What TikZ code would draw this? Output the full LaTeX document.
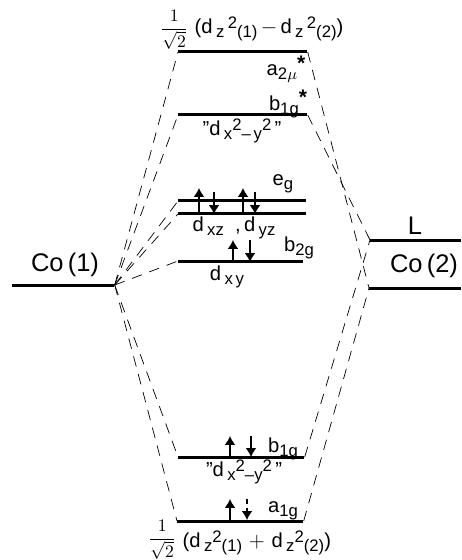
\documentclass[tikz,border=0pt]{standalone}
\usepackage{amsmath}
\usepackage{fontspec}
\setmainfont{Liberation Sans}
\usetikzlibrary{arrows.meta,calc}
\newcommand{\lsub}[1]{\raisebox{-2.2pt}{\fontsize{9.5}{10}\selectfont #1}}
\newcommand{\lsup}[1]{\raisebox{3pt}{\fontsize{9.5}{10}\selectfont #1}}
\newcommand{\lstar}{\raisebox{3pt}{\fontsize{12}{12}\selectfont\bfseries *}}
\newcommand{\lfrac}{{\fontsize{10}{11}\selectfont$\dfrac{1}{\sqrt{2}}$}}
\tikzset{
  level/.style={fill=black,inner sep=0pt,minimum height=3*0.02cm,anchor=west},
  mix/.style={dash pattern=on 6pt off 4.5pt,line width=0.4pt},
  spin/.style={line width=0.7pt,-{Latex[length=5pt,width=6pt]}},
  lab/.style={inner sep=0pt,font=\fontsize{11.5}{13}\selectfont},
  colab/.style={inner sep=0pt,font=\fontsize{14.5}{16}\selectfont}
}
\begin{document}
\begin{tikzpicture}[x=0.02cm,y=-0.02cm]
\useasboundingbox (0,0) rectangle (461,560);
% levels of the middle column
\node[level,minimum width=129*0.02cm] (a2u) at (178,52) {};
\node[level,minimum width=129*0.02cm] (b1gs) at (178,115) {};
\node[level,minimum width=128*0.02cm] (eg1) at (178,201) {};
\node[level,minimum width=128*0.02cm] (eg2) at (178,214) {};
\node[level,minimum width=125*0.02cm] (b2g) at (178,261) {};
\node[level,minimum width=126*0.02cm] (b1g) at (178,457) {};
\node[level,minimum width=126*0.02cm] (a1g) at (177,521) {};
% the two sides
\node[level,minimum width=102*0.02cm] (co1) at (12,285) {};
\node[level,minimum width=91*0.02cm] (lig) at (370,240) {};
\node[level,minimum width=92*0.02cm] (co2) at (369,288) {};
% correlation lines
\foreach \lvl in {a2u,b1gs,eg1,eg2,b2g,b1g,a1g}
  \draw[mix] (co1.east)--(\lvl.west);
\draw[mix] (a2u.east)--(co2.west);
\draw[mix] (b1gs.east)--(lig.west);
\draw[mix] (b1g.east)--(lig.west);
\draw[mix] (a1g.east)--(co2.west);
% electrons
\foreach \dx in {21,65}
  \draw[spin] ($(eg2.west)+(\dx,0)$)--++(0,-26);
\foreach \dx in {36,77}
  \draw[spin] ($(eg2.west)+(\dx,-22)$)--++(0,22);
\draw[spin] ($(b2g.west)+(55,0)$)--++(0,-21);
\draw[spin] ($(b2g.west)+(72,-21)$)--++(0,22);
\draw[spin] ($(b1g.west)+(52,0)$)--++(0,-21);
\draw[spin] ($(b1g.west)+(73,-21)$)--++(0,21);
\draw[spin] ($(a1g.west)+(53,0)$)--++(0,-22);
\draw[spin,densely dashed] ($(a1g.west)+(70,-22)$)--++(0,21);
% labels
\node[lab,anchor=west] (topf) at (160,30) {\lfrac\,\,(d\,\lsub{z}\,\lsup{2}\lsub{(1)}\,$-$\,d\,\lsub{z}\,\lsup{2}\lsub{(2)})};
\node[lab] (a2ulab) at (286,69) {a\lsub{2$\mu$}\lstar};
\node[lab] (b1gslab) at (288,104) {b\lsub{1g}\lstar};
\node[lab] (dx2s) at (242,131) {"d\,\lsub{x}\lsup{2}\lsub{--\,y}\lsup{2}\,"};
\node[lab] (eglab) at (283,184) {e\lsub{g}};
\node[lab] (dxz) at (234,228) {d\,\lsub{xz}\ \ ,\,d\,\lsub{yz}};
\node[lab] (b2glab) at (299,248) {b\lsub{2g}};
\node[lab] (dxy) at (227,277) {d\,\lsub{x\,y}};
\node[lab] (b1glab) at (283,449) {b\lsub{1g}};
\node[lab] (dx2) at (244,472) {"d\,\lsub{x}\lsup{2}\lsub{--y}\lsup{2}\,"};
\node[lab] (a1glab) at (283,511) {a\lsub{1g}};
\node[lab,anchor=west] (botf) at (148,540) {\lfrac\,\,\raisebox{-2.4pt}{(d\,\lsub{z}\lsup{2}\lsub{(1)}\,\,$+$\,\,d\,\lsub{z}\lsup{2}\lsub{(2)})}};
\node[colab] (co1lab) at (65,265) {Co\,(1)};
\node[colab] (liglab) at (415,226) {L};
\node[colab] (co2lab) at (424,266) {Co\,(2)};
\end{tikzpicture}
\end{document}
